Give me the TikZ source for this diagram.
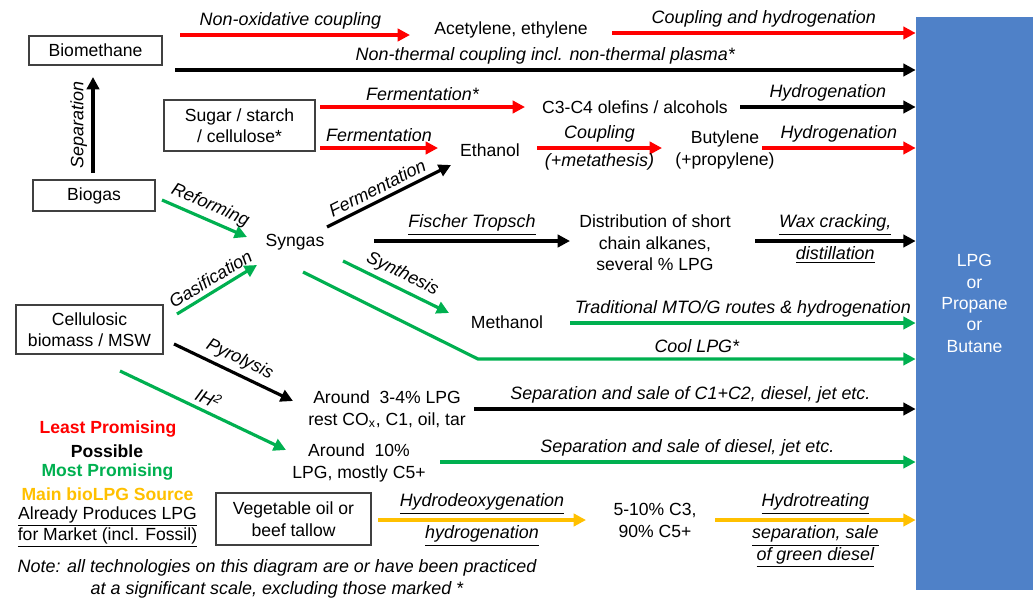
\documentclass[tikz,border=0pt]{standalone}
\usepackage{fontspec}
\setmainfont{Liberation Sans}
\usetikzlibrary{arrows.meta}

\definecolor{lpred}{RGB}{255,0,0}
\definecolor{lpgreen}{RGB}{0,176,80}
\definecolor{lpyellow}{RGB}{255,192,0}
\definecolor{lpblue}{RGB}{79,129,200}

\begin{document}
\begin{tikzpicture}[x=0.02cm, y=-0.02cm,
	every node/.style={font=\fontsize{10}{12.2}\selectfont},
	box/.style={draw=black!75, line width=0.6pt, align=center, inner sep=0pt},
	txt/.style={align=center, inner sep=1pt},
	lbl/.style={font=\fontsize{10.2}{12.2}\selectfont\itshape, text=black, align=center, inner sep=2.5pt},
	legend/.style={font=\fontsize{10}{12.2}\selectfont\bfseries, inner sep=0pt},
	edge/.style={line width=1.8pt, -{Triangle[length=7pt, width=7pt]}},
	red edge/.style={edge, lpred},
	green edge/.style={edge, lpgreen},
	yellow edge/.style={edge, lpyellow}]

	\useasboundingbox (0,0) rectangle (1035,599);

	\node (lpg) [fill=lpblue, text=white, align=center, inner sep=0pt,
		minimum width=2.34cm, minimum height=11.46cm] at (974.5,303.5)
		{LPG\\or\\Propane\\or\\Butane};

	% Feedstocks
	\node (biometh) [box, minimum width=2.66cm, minimum height=0.58cm] at (95.5,50.5) {Biomethane};
	\node (sugar) [box, minimum width=3.02cm, minimum height=1.02cm] at (239.5,125.5) {Sugar / starch\\/ cellulose*};
	\node (biogas) [box, minimum width=2.44cm, minimum height=0.62cm] at (94,195.5) {Biogas};
	\node (cellu) [box, minimum width=2.94cm, minimum height=0.98cm] at (89.5,329.5) {Cellulosic\\biomass / MSW};
	\node (vegoil) [box, minimum width=3.10cm, minimum height=1.04cm] at (293.5,519) {Vegetable oil or\\beef tallow};

	% Intermediates
	\node (acet) [txt] at (511,30) {Acetylene, ethylene};
	\node (olef) [txt] at (635,107) {C3-C4 olefins / alcohols};
	\node (ethanol) [txt] at (490,150) {Ethanol};
	\node (butyl) [txt] at (725,150) {Butylene\\(+propylene)};
	\node (syngas) [txt] at (295,242) {Syngas};
	\node (distr) [txt] at (655,243) {Distribution of short\\chain alkanes,\\several \% LPG};
	\node (methanol) [txt] at (507,322) {Methanol};
	\node (pyroprod) [txt] at (387,409.5) {Around\ \ 3-4\% LPG\\rest CO\textsubscript{x}, C1, oil, tar};
	\node (ihprod) [txt] at (359,463) {Around\ \ 10\%\\LPG, mostly C5+};
	\node (hdoprod) [txt] at (655,520.5) {5-10\% C3,\\90\% C5+};

	% Arrow ends
	\coordinate (noc) at (180,35);
	\coordinate (noce) at (410,35);
	\coordinate (coup) at (612,33);
	\coordinate (ntc) at (175,70);
	\coordinate (sepa) at (93,173);
	\coordinate (sepe) at (93,77);
	\coordinate (fermA) at (320,107);
	\coordinate (fermAe) at (525,107);
	\coordinate (hydA) at (740,107);
	\coordinate (fermB) at (320,148);
	\coordinate (fermBe) at (438,148);
	\coordinate (coupB) at (537,148);
	\coordinate (coupBe) at (662,148);
	\coordinate (hydB) at (762,148);
	\coordinate (refo) at (162,200);
	\coordinate (refoe) at (247,237);
	\coordinate (gasi) at (177,314);
	\coordinate (gasie) at (257,265);
	\coordinate (fermC) at (327,227);
	\coordinate (fermCe) at (451,165);
	\coordinate (ft) at (374,241);
	\coordinate (fte) at (570,241);
	\coordinate (wax) at (755,241);
	\coordinate (synt) at (343,261);
	\coordinate (synte) at (449,313);
	\coordinate (mto) at (570,323);
	\coordinate (cool) at (303,272);
	\coordinate (coolk) at (478,359);
	\coordinate (pyro) at (174,344);
	\coordinate (pyroe) at (293,401);
	\coordinate (sepC) at (474,409);
	\coordinate (ihh) at (120,371);
	\coordinate (ihhe) at (286,450);
	\coordinate (sepD) at (440,462);
	\coordinate (hdo) at (378,520);
	\coordinate (hdoe) at (586,520);
	\coordinate (hyt) at (715,520);

	\draw[red edge] (noc) -- node [lbl, above, pos=0.48] {Non-oxidative coupling} (noce);
	\draw[red edge] (coup) -- node [lbl, above] {Coupling and hydrogenation} (coup -| lpg.west);
	\draw[edge] (ntc) -- node [lbl, above] {Non-thermal coupling incl. non-thermal plasma*} (ntc -| lpg.west);
	\draw[edge] (sepa) -- node [lbl, sloped, above] {Separation} (sepe);

	\draw[red edge] (fermA) -- node [lbl, above] {Fermentation*} (fermAe);
	\draw[edge] (hydA) -- node [lbl, above] {Hydrogenation} (hydA -| lpg.west);
	\draw[red edge] (fermB) -- node [lbl, above] {Fermentation} (fermBe);
	\draw[red edge] (coupB) -- node [lbl, above] {Coupling} node [lbl, below] {(+metathesis)} (coupBe);
	\draw[red edge] (hydB) -- node [lbl, above] {Hydrogenation} (hydB -| lpg.west);

	\draw[green edge] (refo) -- node [lbl, sloped, above] {Reforming} (refoe);
	\draw[green edge] (gasi) -- node [lbl, sloped, above] {Gasification} (gasie);
	\draw[edge] (fermC) -- node [lbl, sloped, above, pos=0.45] {Fermentation} (fermCe);
	\draw[edge] (ft) -- node [lbl, above] {\underline{Fischer Tropsch}} (fte);
	\draw[edge] (wax) -- node [lbl, above] {\underline{Wax cracking,}} node [lbl, below] {\underline{distillation}} (wax -| lpg.west);
	\draw[green edge] (synt) -- node [lbl, sloped, above] {Synthesis} (synte);
	\draw[green edge] (mto) -- node [lbl, above] {Traditional MTO/G routes \& hydrogenation} (mto -| lpg.west);
	\draw[green edge] (cool) -- (coolk) -- node [lbl, above] {Cool LPG*} (coolk -| lpg.west);

	\draw[edge] (pyro) -- node [lbl, sloped, above] {Pyrolysis} (pyroe);
	\draw[edge] (sepC) -- node [lbl, above, pos=0.49] {Separation and sale of C1+C2, diesel, jet etc.} (sepC -| lpg.west);
	\draw[green edge] (ihh) -- node [lbl, sloped, above] {IH\textsuperscript{2}} (ihhe);
	\draw[green edge] (sepD) -- node [lbl, above, pos=0.52] {Separation and sale of diesel, jet etc.} (sepD -| lpg.west);

	\draw[yellow edge] (hdo) -- node [lbl, above] {\underline{Hydrodeoxygenation}} node [lbl, below] {\underline{hydrogenation}} (hdoe);
	\draw[yellow edge] (hyt) -- node [lbl, above] {\underline{Hydrotreating}}
		node [lbl, below] {\underline{separation, sale}\\\underline{of green diesel}} (hyt -| lpg.west);

	% Legend
	\node (least) [legend, text=lpred] at (108,429) {Least Promising};
	\node (possible) [legend] at (107,451) {Possible};
	\node (most) [legend, text=lpgreen] at (107.5,472) {Most Promising};
	\node (mainsrc) [legend, text=lpyellow] at (107.5,494) {Main bioLPG Source};
	\node (already) [txt, inner sep=0pt] at (107.5,527) {\underline{Already Produces LPG}\\\underline{for Market (incl. Fossil)}};

	\node (note) [lbl, inner sep=0pt] at (277,579) {Note: all technologies on this diagram are or have been practiced\\at a significant scale, excluding those marked *};
\end{tikzpicture}
\end{document}
